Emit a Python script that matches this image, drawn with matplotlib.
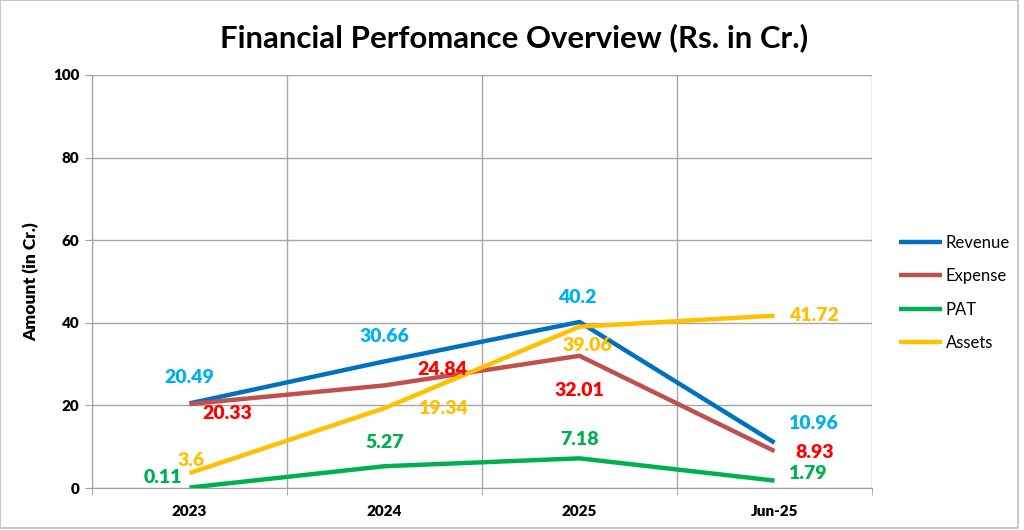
import matplotlib
matplotlib.use("Agg")
import matplotlib.pyplot as plt
from matplotlib.patches import Rectangle

categories = ["2023", "2024", "2025", "Jun-25"]
revenue = [20.49, 30.66, 40.2, 10.96]
expense = [20.33, 24.84, 32.01, 8.93]
pat = [0.11, 5.27, 7.18, 1.79]
assets = [3.6, 19.34, 39.06, 41.72]
yticks = [0, 20, 40, 60, 80, 100]

FONT = ["Lato", "DejaVu Sans"]
plt.rcParams['font.family'] = FONT

W, H = 1024, 530
fig = plt.figure(figsize=(W / 100, H / 100), dpi=100)
ax = fig.add_axes([92 / W, 1 - 488 / H, (872 - 92) / W, (488 - 75) / H])

series = [
    ("Revenue", revenue, "#0070C0", "#00B0F0"),
    ("Expense", expense, "#C0504D", "#FF0000"),
    ("PAT", pat, "#00B050", "#00B050"),
    ("Assets", assets, "#FFC000", "#FFC000"),
]
x = list(range(len(categories)))
for name, vals, lc, _ in series:
    ax.plot(x, vals, color=lc, lw=3.2, label=name, solid_capstyle="butt", zorder=3)

# label offsets in pixels (dx, dy) relative to point
offsets = {
    "Revenue": [(0, 26), (0, 25), (-2, 24), (38, 19)],
    "Expense": [(38, -9), (58, 16), (0, -35), (40, -1)],
    "PAT": [(-27, 10), (0, 24), (0, 19), (33, 7)],
    "Assets": [(2, 13), (58, 0), (8, -19), (40, 0)],
}
for name, vals, _, tc in series:
    for i, v in enumerate(vals):
        dx, dy = offsets[name][i]
        ax.annotate(f"{v:g}", (i, v), xytext=(dx * 0.72, dy * 0.72), textcoords="offset points",
                    ha="center", va="center", color=tc, fontsize=14, fontweight="heavy", zorder=4)

ax.set_xlim(-0.5, 3.5)
ax.set_ylim(0, 100)
ax.set_yticks(yticks)
ax.set_yticklabels([str(t) for t in yticks], fontsize=11, fontweight="heavy")
ax.set_xticks(x)
ax.set_xticklabels(categories, fontsize=11, fontweight="heavy")
ax.set_xticks([-0.5, 0.5, 1.5, 2.5, 3.5], minor=True)
ax.tick_params(axis="x", which="major", length=0, pad=12)
ax.tick_params(axis="x", which="minor", length=5, color="#A0A0A0")
ax.tick_params(axis="y", length=5, color="#A0A0A0", pad=4)
ax.grid(True, axis="y", color="#A6A6A6", lw=1)
ax.grid(True, axis="x", which="minor", color="#A6A6A6", lw=1)
for s in ["top", "right"]:
    ax.spines[s].set_visible(False)
for s in ["left", "bottom"]:
    ax.spines[s].set_color("#A0A0A0")
ax.set_ylabel("Amount (in Cr.)", fontsize=12.5, fontweight="heavy", labelpad=10)

fig.text(514 / W, 1 - 38 / H, "Financial Perfomance Overview (Rs. in Cr.)", ha="center", va="center",
         fontsize=22.4, fontweight="bold")

leg = fig.legend(loc="center left", bbox_to_anchor=(884 / W, 1 - 293 / H), frameon=False,
                 fontsize=12, handlelength=2.6, handletextpad=0.2, labelspacing=1.05)
for line in leg.get_lines():
    line.set_linewidth(3.2)

fig.patches.append(Rectangle((0, 2 / H), 1018 / W, 1 - 2 / H, transform=fig.transFigure,
                             fill=False, edgecolor="#BFBFBF", lw=1.2))

fig.savefig("out.png", dpi=100)
